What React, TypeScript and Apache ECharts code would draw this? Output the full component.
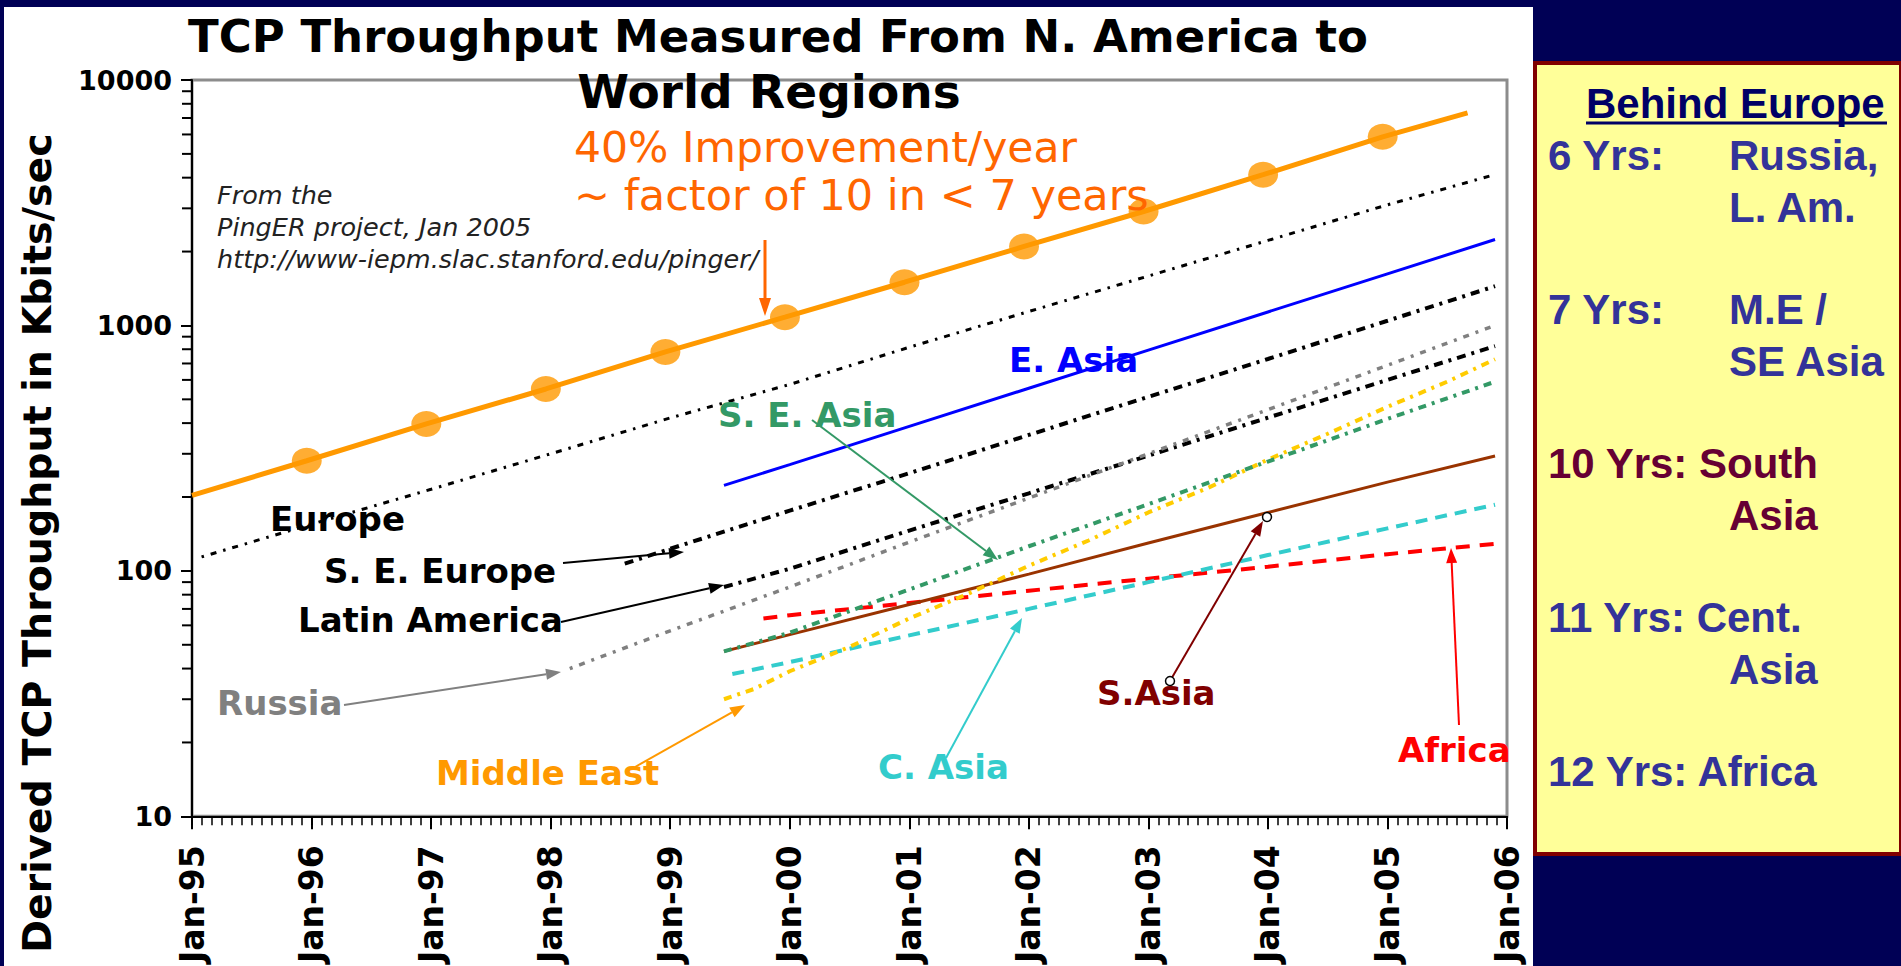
import React, { useEffect, useRef } from "react";
import * as echarts from "echarts";

// ---------- axes ----------
const X_MIN = 1995;
const X_MAX = 2006;
const Y_MIN = 10;
const Y_MAX = 10000;
const Y_MINOR_TICKS = [
  20, 30, 40, 50, 60, 70, 80, 90,
  200, 300, 400, 500, 600, 700, 800, 900,
  2000, 3000, 4000, 5000, 6000, 7000, 8000, 9000,
];

// ---------- data (decimal years, Kbits/sec) ----------
const TREND_X = [1995.0, 1995.96, 1996.96, 1997.96, 1998.96, 1999.96, 2000.96, 2001.96, 2002.96, 2003.96, 2004.96, 2005.67];
const TREND_Y = [203, 281, 397, 551, 780, 1081, 1500, 2098, 2912, 4113, 5870, 7345];

const EUROPE_X = [1995.08, 1996, 1997, 1998, 1999, 2000, 2001, 2002, 2003, 2004, 2005, 2005.9];
const EUROPE_Y = [114, 155, 215, 300, 420, 575, 815, 1140, 1590, 2220, 3100, 4120];

const SEEUROPE_X = [1998.62, 1999, 2000, 2001, 2002, 2003, 2004, 2005, 2005.9];
const SEEUROPE_Y = [107, 123, 176, 250, 358, 512, 730, 1045, 1445];

const LATAM_X = [1999.45, 2000, 2001, 2002, 2003, 2004, 2005, 2005.9];
const LATAM_Y = [86, 102, 146, 207, 295, 421, 600, 824];

const RUSSIA_X = [1998.16, 1999, 2000, 2001, 2002, 2003, 2004, 2005, 2005.9];
const RUSSIA_Y = [40, 57, 86, 131, 198, 300, 454, 688, 1000];

const EASIA_X = [1999.45, 2000, 2001, 2002, 2003, 2004, 2005, 2005.9];
const EASIA_Y = [223, 271, 388, 555, 793, 1135, 1622, 2240];

const SEASIA_X = [1999.45, 2000, 2001, 2002, 2003, 2004, 2005, 2005.9];
const SEASIA_Y = [47, 56, 84, 126, 187, 279, 416, 590];

const MIDEAST_X = [1999.45, 1999.7, 2000, 2000.5, 2001, 2001.5, 2002, 2002.5, 2003, 2003.5, 2004, 2004.5, 2005, 2005.5, 2005.9];
const MIDEAST_Y = [30, 33, 39, 49, 64, 81, 105, 133, 173, 218, 284, 362, 466, 590, 728];

const SASIA_X = [1999.45, 2000, 2001, 2002, 2003, 2004, 2005, 2005.9];
const SASIA_Y = [47, 55, 73, 97, 130, 173, 230, 294];

const CASIA_X = [1999.52, 2000, 2001, 2002, 2003, 2004, 2005, 2005.9];
const CASIA_Y = [38, 42.5, 54.6, 70, 90, 116, 149, 186];

const AFRICA_X = [1999.78, 2000, 2001, 2002, 2003, 2004, 2005, 2005.9];
const AFRICA_Y = [64, 66, 74, 83, 93, 104, 117, 129];

// ---------- texts ----------
const TITLE_LINES = ["TCP Throughput Measured From N. America to", "World Regions"];
const Y_NAME = "Derived TCP Throughput in Kbits/sec";
const NOTE_LINES = ["From the", "PingER project, Jan 2005", "http://www-iepm.slac.stanford.edu/pinger/"];
const TREND_NOTE = ["40% Improvement/year", "~ factor of 10 in < 7 years"];

const NAVY = "#000055";
const CHART_FONT = "DejaVu Sans";
const BOX_FONT = "Liberation Sans";

const zip = (xs: number[], ys: number[]) => xs.map((x, i) => [x, ys[i]]);

function lineSeries(name: string, xs: number[], ys: number[], color: string, width: number, type: any, z = 3) {
  return {
    name,
    type: "line",
    data: zip(xs, ys),
    showSymbol: false,
    symbol: "none",
    silent: true,
    z,
    lineStyle: { color, width, type, cap: "butt" },
  };
}

function arrow(x1: number, y1: number, x2: number, y2: number, color: string, w = 2, head = 15, hw = 5.5) {
  const ang = Math.atan2(y2 - y1, x2 - x1);
  const bx = x2 - head * Math.cos(ang);
  const by = y2 - head * Math.sin(ang);
  const px = -Math.sin(ang) * hw;
  const py = Math.cos(ang) * hw;
  return [
    { type: "line", silent: true, z: 20, shape: { x1, y1, x2: bx, y2: by }, style: { stroke: color, lineWidth: w } },
    {
      type: "polygon",
      silent: true,
      z: 20,
      shape: { points: [[x2, y2], [bx + px, by + py], [bx - px, by - py]] },
      style: { fill: color },
    },
  ];
}

function txt(text: string, x: number, y: number, opts: any) {
  const { scaleX = 1, rotation = 0, ...style } = opts;
  return {
    type: "text",
    silent: true,
    z: 30,
    x,
    y,
    scaleX,
    rotation,
    style: {
      text,
      align: style.align || "left",
      textAlign: style.align || "left",
      verticalAlign: "middle",
      textVerticalAlign: "middle",
      ...style,
    },
  };
}

function buildOption() {
  const label = (s: string, x: number, y: number, color: string) =>
    txt(s, x, y, { fill: color, fontFamily: CHART_FONT, fontWeight: "bold", fontSize: 34 });

  const boxText = (s: string, x: number, y: number, color: string) =>
    txt(s, x, y, { fill: color, fontFamily: BOX_FONT, fontWeight: "bold", fontSize: 42 });

  const BLUE = "#333399";
  const MAROON = "#660033";

  const graphic: any[] = [
    // titles
    txt(TITLE_LINES[0], 778, 36, { align: "center", fill: "#000", fontFamily: CHART_FONT, fontWeight: "bold", fontSize: 45 }),
    txt(TITLE_LINES[1], 769, 91, { align: "center", fill: "#000", fontFamily: CHART_FONT, fontWeight: "bold", fontSize: 47 }),
    // y-axis name
    txt(Y_NAME, 37, 543, { align: "center", rotation: Math.PI / 2, fill: "#000", fontFamily: CHART_FONT, fontWeight: "bold", fontSize: 39.5 }),
    // notes
    txt(NOTE_LINES[0], 217, 195, { fill: "#222", fontFamily: CHART_FONT, fontStyle: "italic", fontSize: 25.5 }),
    txt(NOTE_LINES[1], 217, 227, { fill: "#222", fontFamily: CHART_FONT, fontStyle: "italic", fontSize: 25.5 }),
    txt(NOTE_LINES[2], 217, 259, { fill: "#222", fontFamily: CHART_FONT, fontStyle: "italic", fontSize: 25.5 }),
    txt(TREND_NOTE[0], 574, 147, { fill: "#FF6600", fontFamily: CHART_FONT, fontSize: 42.5 }),
    txt(TREND_NOTE[1], 574, 195, { fill: "#FF6600", fontFamily: CHART_FONT, fontSize: 43 }),
    ...arrow(765, 240, 765, 316, "#FF6600", 3, 18, 6),
    // series labels
    label("Europe", 270, 519, "#000"),
    label("S. E. Europe", 324, 571, "#000"),
    label("Latin America", 298, 620, "#000"),
    label("Russia", 217, 703, "#808080"),
    label("Middle East", 436, 773, "#FF9900"),
    label("S. E. Asia", 718, 415, "#339966"),
    label("E. Asia", 1009, 360, "#0000FF"),
    label("C. Asia", 878, 767, "#33CCCC"),
    label("S.Asia", 1097, 693, "#800000"),
    label("Africa", 1398, 750, "#FF0000"),
    // arrows
    ...arrow(563, 563, 684, 552, "#000", 2),
    ...arrow(561, 622, 724, 585, "#000", 2),
    ...arrow(344, 705, 561, 672, "#808080", 2),
    ...arrow(635, 767, 745, 705, "#FF9900", 2),
    ...arrow(812, 420, 998, 560, "#339966", 2),
    ...arrow(946, 758, 1022, 618, "#33CCCC", 2),
    ...arrow(1170, 681, 1263, 521, "#800000", 2),
    { type: "circle", silent: true, z: 21, shape: { cx: 1170, cy: 681, r: 4.5 }, style: { fill: "#fff", stroke: "#000", lineWidth: 1.5 } },
    { type: "circle", silent: true, z: 21, shape: { cx: 1267, cy: 517, r: 4.5 }, style: { fill: "#fff", stroke: "#000", lineWidth: 1.5 } },
    ...arrow(1459, 725, 1451, 548, "#FF0000", 2),
    // right-hand box
    {
      type: "rect",
      silent: true,
      z: 10,
      shape: { x: 1535, y: 63, width: 366, height: 791 },
      style: { fill: "#FFFF99", stroke: "#800000", lineWidth: 4 },
    },
    boxText("Behind Europe", 1586, 103, "#000066"),
    { type: "line", silent: true, z: 31, shape: { x1: 1586, y1: 123, x2: 1887, y2: 123 }, style: { stroke: "#000066", lineWidth: 3 } },
    boxText("6 Yrs:", 1548, 155, BLUE),
    boxText("Russia,", 1729, 155, BLUE),
    boxText("L. Am.", 1729, 207, BLUE),
    boxText("7 Yrs:", 1548, 309, BLUE),
    boxText("M.E /", 1729, 309, BLUE),
    boxText("SE Asia", 1729, 361, BLUE),
    boxText("10 Yrs: South", 1548, 463, MAROON),
    boxText("Asia", 1729, 515, MAROON),
    boxText("11 Yrs: Cent.", 1548, 617, BLUE),
    boxText("Asia", 1729, 669, BLUE),
    boxText("12 Yrs: Africa", 1548, 771, BLUE),
  ];

  const series: any[] = [
    lineSeries("Europe", EUROPE_X, EUROPE_Y, "#000000", 3, [2.5, 7, 6, 7]),
    lineSeries("S. E. Europe", SEEUROPE_X, SEEUROPE_Y, "#000000", 4, [9, 6, 3, 6]),
    lineSeries("Latin America", LATAM_X, LATAM_Y, "#000000", 4, [9, 6, 3, 6]),
    lineSeries("Russia", RUSSIA_X, RUSSIA_Y, "#808080", 3.5, [3, 7, 6, 7]),
    lineSeries("E. Asia", EASIA_X, EASIA_Y, "#0000FF", 3, "solid"),
    lineSeries("Africa", AFRICA_X, AFRICA_Y, "#FF0000", 4, [14, 10]),
    lineSeries("C. Asia", CASIA_X, CASIA_Y, "#33CCCC", 4, [12, 8]),
    lineSeries("S. Asia", SASIA_X, SASIA_Y, "#993300", 3, "solid"),
    lineSeries("Middle East", MIDEAST_X, MIDEAST_Y, "#FFCC00", 4, [8, 6, 3, 6]),
    lineSeries("S. E. Asia", SEASIA_X, SEASIA_Y, "#339966", 4, [8, 6, 3, 6]),
    lineSeries("Trend", TREND_X, TREND_Y, "#FF9900", 5, "solid", 5),
    {
      name: "Trend markers",
      type: "scatter",
      silent: true,
      z: 6,
      symbol: "circle",
      symbolSize: [30, 26],
      itemStyle: { color: "#FF9900" },
      data: zip(TREND_X.slice(1, -1), TREND_Y.slice(1, -1)),
    },
    {
      name: "y minor ticks",
      type: "custom",
      silent: true,
      clip: false,
      z: 4,
      data: Y_MINOR_TICKS.map((v) => [X_MIN, v]),
      renderItem: (params: any, api: any) => {
        const p = api.coord([api.value(0), api.value(1)]);
        return {
          type: "line",
          shape: { x1: p[0] - 10, y1: p[1], x2: p[0], y2: p[1] },
          style: { stroke: "#000", lineWidth: 2 },
        };
      },
    },
  ];

  return {
    animation: false,
    backgroundColor: "transparent",
    grid: {
      left: 192,
      top: 80,
      width: 1315,
      height: 739,
      show: true,
      borderColor: "#8c8c8c",
      borderWidth: 3,
      backgroundColor: "transparent",
    },
    xAxis: {
      type: "value",
      min: X_MIN,
      max: X_MAX,
      interval: 1,
      axisLine: { show: true, onZero: false, lineStyle: { color: "#000", width: 2 } },
      axisTick: { show: true, length: 13, lineStyle: { color: "#000", width: 2 } },
      minorTick: { show: true, splitNumber: 12, length: 9, lineStyle: { color: "#000", width: 1.5 } },
      splitLine: { show: false },
      minorSplitLine: { show: false },
      axisLabel: {
        rotate: 90,
        margin: 29,
        showMinLabel: true,
        showMaxLabel: true,
        fontFamily: CHART_FONT,
        fontWeight: "bold",
        fontSize: 33,
        color: "#000",
        formatter: (v: number) => "Jan-" + String(Math.round(v) % 100).padStart(2, "0"),
      },
    },
    yAxis: {
      type: "log",
      logBase: 10,
      min: Y_MIN,
      max: Y_MAX,
      axisLine: { show: true, lineStyle: { color: "#000", width: 2 } },
      axisTick: { show: true, length: 11, lineStyle: { color: "#000", width: 2 } },
      splitLine: { show: false },
      axisLabel: {
        margin: 20,
        fontFamily: CHART_FONT,
        fontWeight: "bold",
        fontSize: 27,
        color: "#000",
        formatter: (v: number) => String(Math.round(v)),
      },
    },
    series,
    graphic,
  };
}

export default function App() {
  const ref = useRef<HTMLDivElement>(null);
  useEffect(() => {
    if (!ref.current) return;
    const chart = echarts.init(ref.current, null, { renderer: "svg" });
    chart.setOption(buildOption() as any);
    return () => chart.dispose();
  }, []);
  return (
    <div style={{ position: "fixed", left: 0, top: 0, width: 1901, height: 966, background: NAVY, overflow: "hidden" }}>
      <div style={{ position: "absolute", left: 4, top: 7, width: 1529, height: 959, background: "#ffffff" }} />
      <div ref={ref} style={{ position: "absolute", left: 0, top: 0, width: 1901, height: 966 }} />
    </div>
  );
}
